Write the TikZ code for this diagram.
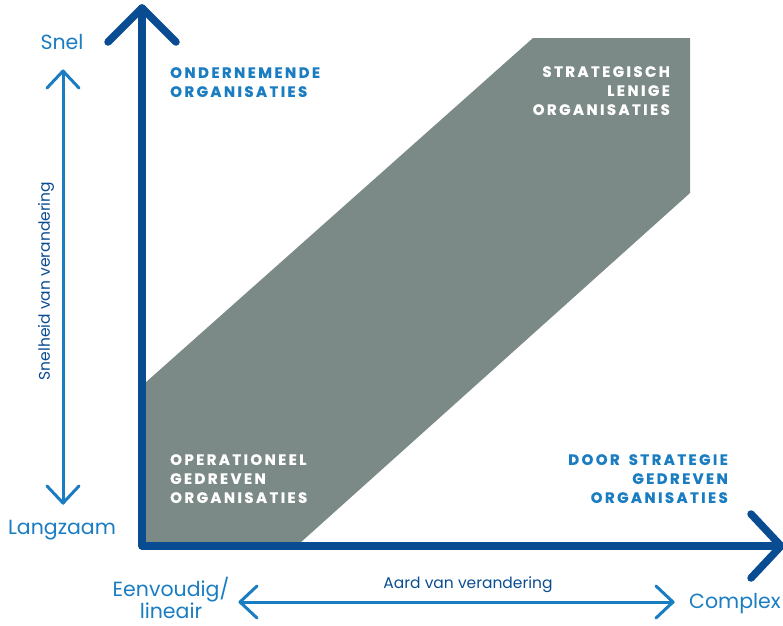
\documentclass[tikz,border=0pt]{standalone}
\usepackage{fontspec}
\setmainfont{Poppins}
\newfontfamily\lblfont[LetterSpace=16, BoldFeatures={FakeBold=0.6}]{Poppins}
\definecolor{axisblue}{HTML}{0A4C92}
\definecolor{lightblue}{HTML}{1A7DC2}
\definecolor{zonegray}{HTML}{7B8A86}
\tikzset{
  axisline/.style={draw=axisblue, line width=7.5pt, line cap=round, line join=round},
  scaleline/.style={draw=lightblue, line width=3pt, line cap=round, line join=round},
  zonelbl/.style={font=\lblfont\fontsize{15}{19}\selectfont\bfseries, inner sep=0pt},
  axislbl/.style={font=\fontsize{20.5}{20}\selectfont, text=lightblue, inner sep=0pt},
}
\begin{document}
\begin{tikzpicture}[x=1pt,y=-1pt]
\useasboundingbox (0,0) rectangle (783,625);
% gray band
\fill[zonegray] (145,383) -- (533,38) -- (690,38) -- (690,193) -- (300,543) -- (145,543) -- cycle;
% main axes
\coordinate (top) at (142,8);
\coordinate (origin) at (142,546);
\coordinate (right) at (781,546);
\draw[axisline] (top) -- (origin) -- (right);
\draw[axisline] ([shift={(-34,34)}]top) -- (top) -- ([shift={(34,34)}]top);
\draw[axisline] ([shift={(-30,-32)}]right) -- (right) -- ([shift={(-30,32)}]right);
% vertical scale arrow
\coordinate (vs) at (63,71);
\coordinate (ve) at (63,503);
\draw[scaleline] (vs) -- (ve);
\draw[scaleline] ([shift={(-16,17)}]vs) -- (vs) -- ([shift={(16,17)}]vs);
\draw[scaleline] ([shift={(-16,-17)}]ve) -- (ve) -- ([shift={(16,-17)}]ve);
% horizontal scale arrow
\coordinate (hs) at (240,602);
\coordinate (he) at (673,602);
\draw[scaleline] (hs) -- (he);
\draw[scaleline] ([shift={(17,-16)}]hs) -- (hs) -- ([shift={(17,16)}]hs);
\draw[scaleline] ([shift={(-17,-16)}]he) -- (he) -- ([shift={(-17,16)}]he);
% axis labels
\node[axislbl] (snel) at (62,42) {Snel};
\node[axislbl] (langzaam) at (62,530) {Langzaam};
\node[axislbl, align=center, font=\fontsize{20.5}{18.5}\selectfont] (eenv) at (171,598) {Eenvoudig/\\lineair};
\node[axislbl, anchor=west] (complex) at (689,604) {Complex};
\node[axislbl, font=\fontsize{15.5}{17}\selectfont, text=axisblue] (aard) at (468,585) {Aard van verandering};
\node[axislbl, font=\fontsize{15.5}{17}\selectfont, text=axisblue, rotate=90] (snelheid) at (46,281) {Snelheid van verandering};
% zone labels
\node[zonelbl, text=lightblue, anchor=north west, align=left] (ond) at (170,67) {ONDERNEMENDE\\ORGANISATIES};
\node[zonelbl, text=white, anchor=north east, align=right] (strat) at (670,66) {STRATEGISCH\\LENIGE\\ORGANISATIES};
\node[zonelbl, text=white, anchor=north west, align=left] (oper) at (170,454) {OPERATIONEEL\\GEDREVEN\\ORGANISATIES};
\node[zonelbl, text=lightblue, anchor=north east, align=right] (door) at (728,454) {DOOR\hspace{9pt}STRATEGIE\\GEDREVEN\hspace{6pt}\\ORGANISATIES};
\end{tikzpicture}
\end{document}
